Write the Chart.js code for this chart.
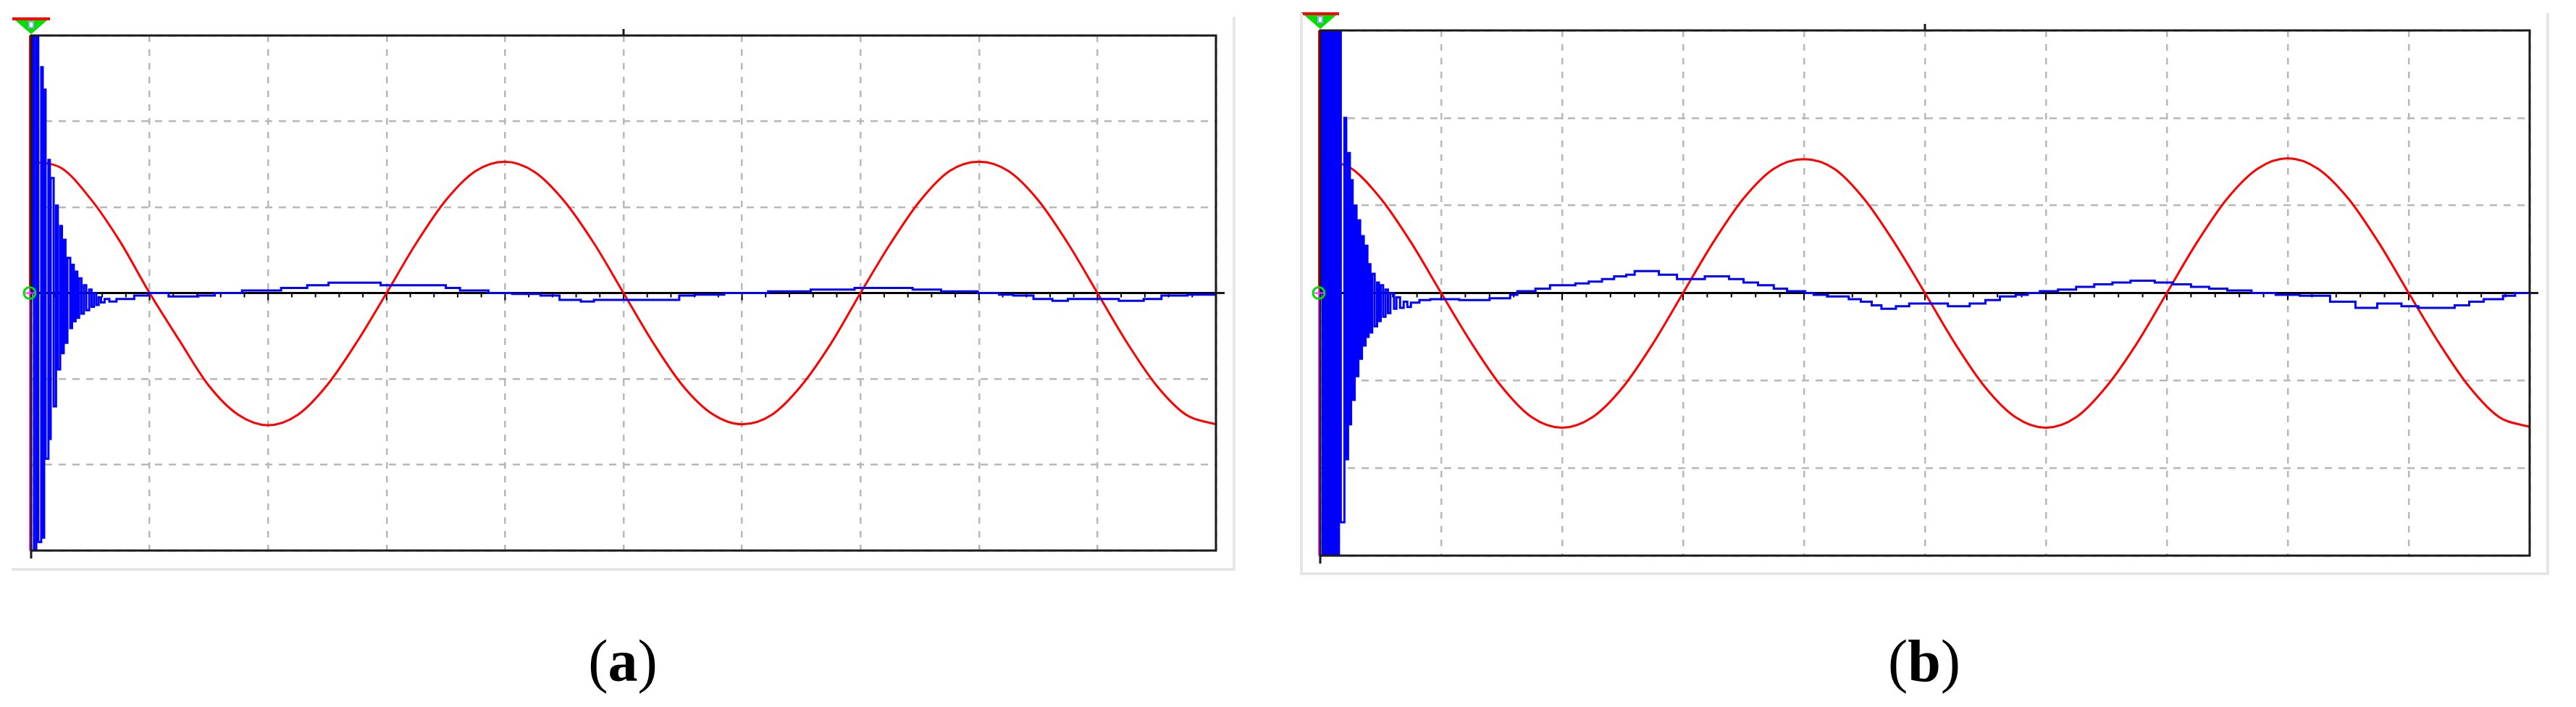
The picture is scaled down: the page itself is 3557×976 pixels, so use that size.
<!DOCTYPE html>
<html>
<head>
<meta charset="utf-8">
<script src="https://cdn.jsdelivr.net/npm/chart.js@4.4.1/dist/chart.umd.min.js"></script>
<style>
    html, body { margin: 0; padding: 0; background: #fff; }
    body { width: 3557px; height: 976px; position: relative; overflow: hidden; }
    canvas { position: absolute; top: 0; }
    .edge { position: absolute; background: #e6e6e6; }
    .caption {
        position: absolute; top: 913px; transform: translate(-50%, -50%);
        font-family: "Liberation Serif", "DejaVu Serif", serif; font-size: 82px; line-height: 1; color: #000;
    }
</style>
</head>
<body>
<canvas id="chart-a" width="1720" height="800" style="left:0"></canvas>
<canvas id="chart-b" width="1760" height="800" style="left:1780px"></canvas>

<!-- window borders of the two scope screenshots -->
<div class="edge" style="left:1702px;top:23px;width:4px;height:765px"></div>
<div class="edge" style="left:16px;top:784px;width:1690px;height:4px"></div>
<div class="edge" style="left:1795px;top:18px;width:4px;height:776px"></div>
<div class="edge" style="left:3516px;top:18px;width:4px;height:776px"></div>
<div class="edge" style="left:1795px;top:790px;width:1725px;height:4px"></div>

<div class="caption" style="left:860px">(<b>a</b>)</div>
<div class="caption" style="left:2657px">(<b>b</b>)</div>

<script>
// x: screen divisions (0..10), y: vertical divisions (-3..3)
const redT = [0, 0.25, 0.5, 0.75, 1, 1.25, 1.5, 1.75, 2, 2.25, 2.5, 2.75, 3, 3.25, 3.5, 3.75, 4, 4.25, 4.5, 4.75,
    5, 5.25, 5.5, 5.75, 6, 6.25, 6.5, 6.75, 7, 7.25, 7.5, 7.75, 8, 8.25, 8.5, 8.75, 9, 9.25, 9.5, 9.75, 10];

const redA = [1.53, 1.46, 1.1, 0.6, 0, -0.55, -1.08, -1.42, -1.54, -1.42, -1.07, -0.57, 0, 0.58, 1.08, 1.42, 1.53, 1.41, 1.07, 0.58,
    0, -0.58, -1.08, -1.41, -1.53, -1.42, -1.08, -0.59, 0, 0.57, 1.07, 1.42, 1.53, 1.42, 1.08, 0.58, 0, -0.58, -1.08, -1.42, -1.53];

const redB = [1.51, 1.43, 1.08, 0.58, 0, -0.57, -1.07, -1.42, -1.54, -1.42, -1.08, -0.58, 0, 0.58, 1.08, 1.42, 1.53, 1.42, 1.07, 0.57,
    0, -0.58, -1.08, -1.42, -1.54, -1.42, -1.07, -0.58, 0, 0.58, 1.08, 1.42, 1.54, 1.42, 1.08, 0.58, 0, -0.57, -1.07, -1.42, -1.53];

const blueTA = [0, 0.012, 0.024, 0.043, 0.06, 0.085, 0.098, 0.11, 0.122, 0.146, 0.158, 0.165, 0.19, 0.21, 0.225,
    0.245, 0.26, 0.275, 0.29, 0.306, 0.33, 0.345, 0.36, 0.375, 0.39, 0.405, 0.425, 0.445, 0.465, 0.49, 0.51, 0.53,
    0.55, 0.57, 0.59, 0.62, 0.66, 0.72, 0.87, 0.99, 1.16, 1.41, 1.55, 1.78, 2.11, 2.33, 2.51, 2.95, 3.5, 3.62, 3.86,
    4.06, 4.3, 4.46, 4.64, 4.75, 5.47, 5.6, 5.85, 6.22, 6.58, 6.95, 7.44, 7.68, 7.99, 8.17, 8.29, 8.46, 8.62, 8.75,
    9.18, 9.39, 9.54, 9.76, 10];

const blueA = [0, 3, -3, 3, -2.9, 2.63, -2.85, 2.37, -1.93, 1.55, -1.7, 1.34, -1.32, 1.02, -0.89,
    0.78, -0.7, 0.62, -0.58, 0.41, -0.41, 0.33, -0.33, 0.25, -0.29, 0.17, -0.24, 0.09, -0.2, 0.04, -0.16, 0,
    -0.14, -0.05, -0.11, -0.07, -0.1, -0.07, -0.03, 0, -0.04, -0.03, 0, 0.03, 0.06, 0.09, 0.12, 0.09, 0.06, 0.03, 0,
    -0.01, -0.03, -0.08, -0.1, -0.08, -0.03, -0.02, 0, 0.02, 0.04, 0.06, 0.04, 0.02, 0, -0.02, -0.03, -0.07, -0.09, -0.07,
    -0.09, -0.07, -0.03, -0.02, 0];

const blueTB = [0, 0.01, 0.02, 0.035, 0.05, 0.065, 0.08, 0.095, 0.11, 0.125, 0.14, 0.155, 0.17, 0.2, 0.215, 0.23,
    0.245, 0.255, 0.268, 0.285, 0.3, 0.315, 0.33, 0.345, 0.36, 0.375, 0.39, 0.4, 0.415, 0.43, 0.45, 0.47, 0.485, 0.5,
    0.52, 0.54, 0.56, 0.58, 0.61, 0.63, 0.66, 0.69, 0.72, 0.75, 0.82, 0.91, 1.15, 1.4, 1.57, 1.63, 1.78, 1.9, 2.11,
    2.22, 2.33, 2.43, 2.53, 2.6, 2.8, 2.95, 3.18, 3.38, 3.5, 3.62, 3.75, 3.86, 4.01, 4.08, 4.19, 4.37, 4.47, 4.56,
    4.64, 4.76, 4.87, 5.19, 5.37, 5.5, 5.62, 5.75, 5.85, 5.95, 6.1, 6.25, 6.4, 6.55, 6.7, 6.9, 7.05, 7.2, 7.35, 7.5,
    7.7, 7.9, 8.1, 8.35, 8.56, 8.74, 8.94, 9.08, 9.38, 9.5, 9.62, 9.78, 9.88, 10];

const blueB = [0, 3, -3, 3, -3, 3, -3, 3, -3, 3, -3, 3, -2.62, 2.0, -1.9, 1.6,
    -1.5, 1.29, -1.22, 1.0, -0.95, 0.83, -0.75, 0.65, -0.6, 0.54, -0.5, 0.33, -0.45, 0.22, -0.38, 0.12, -0.32, 0.09,
    -0.27, 0.04, -0.23, 0, -0.18, -0.05, -0.17, -0.1, -0.16, -0.11, -0.08, -0.07, -0.08, -0.06, -0.02, 0.02, 0.05, 0.09, 0.11,
    0.13, 0.16, 0.19, 0.21, 0.25, 0.21, 0.16, 0.19, 0.16, 0.12, 0.09, 0.05, 0.02, 0, -0.02, -0.04, -0.07, -0.1, -0.14,
    -0.18, -0.15, -0.12, -0.15, -0.12, -0.08, -0.04, -0.02, 0, 0.02, 0.04, 0.07, 0.1, 0.12, 0.14, 0.12, 0.1, 0.07, 0.05, 0.03,
    0, -0.02, -0.03, -0.1, -0.17, -0.12, -0.15, -0.17, -0.14, -0.1, -0.07, -0.03, 0, 0.02];

// Scope decorations: zero axis with minor ticks, frame, cursors, trigger marker
const scopeDecor = {
    id: 'scopeDecor',
    beforeDatasetsDraw(chart) {
        const { ctx, chartArea: a, scales: { x, y } } = chart;
        const y0 = y.getPixelForValue(0);
        ctx.save();
        ctx.strokeStyle = '#000';
        ctx.lineWidth = 3;
        ctx.beginPath();
        ctx.moveTo(a.left, y0);
        ctx.lineTo(a.right, y0);
        ctx.stroke();
        ctx.lineWidth = 2;
        for (let i = 0; i <= 50; i++) {
            const px = x.getPixelForValue(i / 5);
            ctx.beginPath();
            ctx.moveTo(px, y0);
            ctx.lineTo(px, y0 + (i % 5 === 0 ? 10 : 6));
            ctx.stroke();
        }
        ctx.restore();
    },
    afterDatasetsDraw(chart) {
        const { ctx, chartArea: a, scales: { y } } = chart;
        const y0 = y.getPixelForValue(0);
        ctx.save();
        ctx.lineWidth = 4;
        ctx.strokeStyle = '#ff0000';
        ctx.beginPath();
        ctx.moveTo(a.left - 1, a.top);
        ctx.lineTo(a.left - 1, y0);
        ctx.stroke();
        ctx.strokeStyle = '#ff33ff';
        ctx.beginPath();
        ctx.moveTo(a.left - 1, y0);
        ctx.lineTo(a.left - 1, a.bottom);
        ctx.stroke();
        ctx.restore();
    },
    afterDraw(chart) {
        const { ctx, chartArea: a, scales: { x, y } } = chart;
        const y0 = y.getPixelForValue(0);
        const xm = x.getPixelForValue(5);
        ctx.save();
        // frame
        ctx.strokeStyle = '#1a1a1a';
        ctx.lineWidth = 3;
        ctx.strokeRect(a.left, a.top, a.right - a.left, a.bottom - a.top);
        // small marks outside the frame
        ctx.beginPath();
        ctx.moveTo(xm, a.top - 9); ctx.lineTo(xm, a.top);
        ctx.moveTo(a.left, a.bottom); ctx.lineTo(a.left, a.bottom + 11);
        ctx.moveTo(a.right, y0); ctx.lineTo(a.right + 12, y0);
        ctx.stroke();
        // trigger marker
        ctx.fillStyle = '#ff0000';
        ctx.fillRect(a.left - 26, a.top - 25, 52, 4);
        ctx.fillStyle = '#00dd00';
        ctx.beginPath();
        ctx.moveTo(a.left - 22, a.top - 21);
        ctx.lineTo(a.left + 22, a.top - 21);
        ctx.lineTo(a.left, a.top - 2);
        ctx.closePath();
        ctx.fill();
        ctx.fillStyle = '#fff';
        ctx.fillRect(a.left - 4, a.top - 20, 8, 10);
        ctx.strokeStyle = '#3050ff';
        ctx.lineWidth = 1;
        ctx.strokeRect(a.left - 3, a.top - 19, 6, 8);
        // channel zero marker
        ctx.strokeStyle = '#00dd00';
        ctx.lineWidth = 3;
        ctx.beginPath();
        ctx.arc(a.left - 2, y0, 8, 0, Math.PI * 2);
        ctx.stroke();
        ctx.strokeStyle = '#ff33ff';
        ctx.lineWidth = 2;
        ctx.beginPath();
        ctx.moveTo(a.left - 8, y0); ctx.lineTo(a.left + 6, y0);
        ctx.moveTo(a.left - 2, y0 - 6); ctx.lineTo(a.left - 2, y0 + 6);
        ctx.stroke();
        ctx.restore();
    }
};

function buildChart(id, redY, blueT, blueY, pad) {
    const ctx = document.getElementById(id).getContext('2d');
    return new Chart(ctx, {
        type: 'line',
        data: {
            datasets: [{
                label: 'blue',
                data: blueT.map((t, i) => ({ x: t, y: blueY[i] })),
                borderColor: '#0000ff',
                borderWidth: 3,
                stepped: true,
                pointRadius: 0
            }, {
                label: 'red',
                data: redT.map((t, i) => ({ x: t, y: redY[i] })),
                borderColor: '#ff0000',
                borderWidth: 3,
                cubicInterpolationMode: 'monotone',
                pointRadius: 0
            }]
        },
        options: {
            responsive: false,
            animation: false,
            devicePixelRatio: 1,
            layout: { padding: pad },
            plugins: {
                legend: { display: false },
                tooltip: { enabled: false }
            },
            scales: {
                x: {
                    type: 'linear', min: 0, max: 10,
                    ticks: { display: false, stepSize: 1 },
                    grid: { color: '#b8b8b8', lineWidth: 2.5, drawTicks: false },
                    border: { display: false, dash: [9, 10] }
                },
                y: {
                    type: 'linear', min: -3, max: 3,
                    ticks: { display: false, stepSize: 1 },
                    grid: { color: '#b8b8b8', lineWidth: 2.5, drawTicks: false },
                    border: { display: false, dash: [10, 9] }
                }
            }
        },
        plugins: [scopeDecor]
    });
}

const chartA = buildChart('chart-a', redA, blueTA, blueA, { left: 43, top: 49, right: 41, bottom: 40 });
const chartB = buildChart('chart-b', redB, blueTB, blueB, { left: 43, top: 42, right: 47, bottom: 33 });
</script>
</body>
</html>
